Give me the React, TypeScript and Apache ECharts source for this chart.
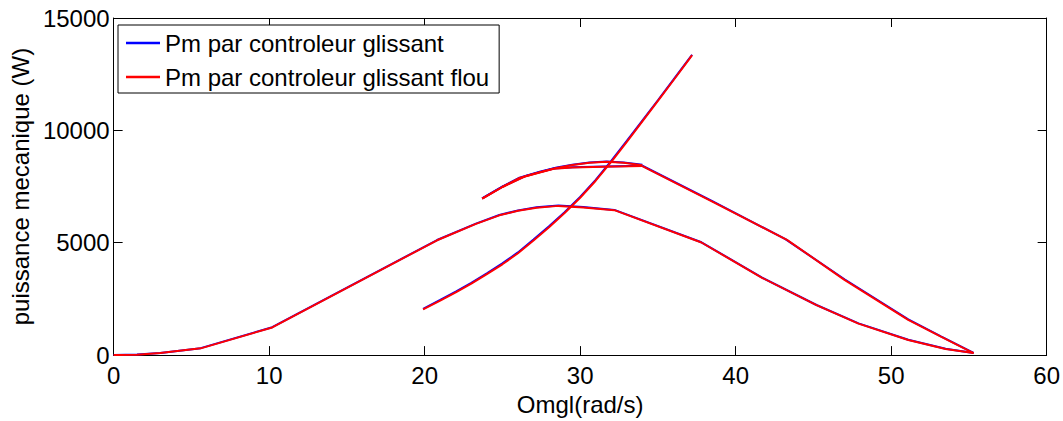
import React, { useEffect, useRef } from "react";
import * as echarts from "echarts";

const NAME_SMC = "Pm par controleur glissant";
const NAME_FUZZY = "Pm par controleur glissant flou";

const xTicks = { min: 0, max: 60, interval: 10 };
const yTicks = { min: 0, max: 15000, interval: 5000 };

// Red (fuzzy sliding) trajectory pieces
const redHumpX = [0, 1.5, 3, 5.6, 10.2, 20.8, 23.3, 24.8, 26.0, 27.2, 28.6, 30.2, 32.2, 37.8, 41.7, 45.2, 47.9, 51.1, 53.5, 55.3];
const redHumpY = [0, 20, 90, 300, 1230, 5110, 5840, 6220, 6420, 6560, 6640, 6570, 6450, 5010, 3440, 2220, 1400, 670, 275, 90];
const redUpX = [55.3, 53.2, 51.1, 47.0, 43.3, 38.5, 34.0];
const redUpY = [90, 820, 1570, 3350, 5130, 6830, 8410];
const redFlatX = [34.0, 31.5, 29.5, 28.3, 26.5, 25.0, 23.7];
const redFlatY = [8410, 8385, 8350, 8290, 7960, 7480, 6960];
const redArcX = [23.7, 25.0, 26.1, 27.4, 28.5, 29.5, 30.6, 31.7, 32.8, 34.0];
const redArcY = [6960, 7480, 7880, 8140, 8330, 8460, 8560, 8600, 8560, 8450];
const redSteepX = [19.9, 21, 22, 23, 24, 25, 26, 27, 28, 29, 30, 31, 32, 33, 34, 35, 36, 37, 37.2];
const redSteepY = [2030, 2420, 2790, 3180, 3600, 4040, 4530, 5100, 5690, 6320, 7000, 7760, 8600, 9490, 10400, 11310, 12230, 13160, 13350];

// Blue (sliding) trajectory pieces
const blueHumpX = [0, 1.5, 3, 5.6, 10.2, 20.8, 23.3, 24.8, 26.0, 27.2, 28.6, 30.2, 32.2, 37.8, 41.7, 45.2, 47.9, 51.1, 53.5, 55.3];
const blueHumpY = [0, 25, 95, 310, 1240, 5120, 5850, 6235, 6435, 6575, 6655, 6585, 6460, 5020, 3450, 2230, 1410, 680, 285, 95];
const blueUpX = [55.3, 53.2, 51.1, 47.0, 43.2, 38.5, 34.0];
const blueUpY = [95, 835, 1590, 3375, 5160, 6850, 8425];
const blueFlatX = [34.0, 31.5, 29.5, 28.3, 26.5, 25.0, 23.7];
const blueFlatY = [8420, 8395, 8360, 8300, 7975, 7495, 6975];
const blueArcX = [23.7, 25.0, 26.1, 27.4, 28.5, 29.5, 30.6, 31.7, 32.8, 34.0];
const blueArcY = [6975, 7495, 7895, 8155, 8345, 8475, 8575, 8615, 8575, 8465];
const blueSteepX = [19.9, 21, 22, 23, 24, 25, 26, 27, 28, 29, 30, 31, 32, 33, 34, 35, 36, 37, 37.2];
const blueSteepY = [2060, 2455, 2825, 3215, 3635, 4080, 4570, 5140, 5730, 6360, 7040, 7800, 8640, 9530, 10435, 11340, 12255, 13180, 13365];

const FONT = "'Liberation Sans', Arial, Helvetica, sans-serif";

function pairs(xs: number[], ys: number[]) {
  return xs.map((x, i) => [x, ys[i]]);
}

function seg(name: string, color: string, xs: number[], ys: number[]) {
  return {
    type: "line",
    name,
    data: pairs(xs, ys),
    symbol: "none",
    showSymbol: false,
    smooth: false,
    lineStyle: { color, width: 2 },
    itemStyle: { color },
    color,
    emphasis: { disabled: true },
    z: color === "#ff0000" ? 3 : 2,
  };
}

export default function App() {
  const ref = useRef<HTMLDivElement>(null);
  useEffect(() => {
    if (!ref.current) return;
    const chart = echarts.init(ref.current, undefined, { renderer: "svg" });
    const blue = "#0000ff";
    const red = "#ff0000";
    const axisCommon = {
      axisLine: { show: true, onZero: false, lineStyle: { color: "#000", width: 1 } },
      axisTick: { show: true, inside: true, length: 9, lineStyle: { color: "#000" } },
      splitLine: { show: false },
    };
    chart.setOption({
      animation: false,
      backgroundColor: "#fff",
      grid: { left: 112, top: 18, width: 937, height: 344, containLabel: false },
      legend: {
        orient: "vertical",
        left: 118,
        top: 25,
        padding: [6, 10, 4, 8],
        itemGap: 10,
        itemWidth: 34,
        itemHeight: 12,
        borderColor: "#000",
        borderWidth: 1,
        backgroundColor: "#fff",
        borderRadius: 0,
        textStyle: { fontSize: 24, fontFamily: FONT, color: "#000", lineHeight: 24 },
        data: [
          { name: NAME_SMC, icon: "path://M0,0 L1,0 L1,0.08 L0,0.08 Z" },
          { name: NAME_FUZZY, icon: "path://M0,0 L1,0 L1,0.08 L0,0.08 Z" },
        ],
        selectedMode: false,
      },
      xAxis: [
        {
          type: "value",
          ...xTicks,
          position: "bottom",
          name: "Omgl(rad/s)",
          nameLocation: "middle",
          nameGap: 30,
          nameTextStyle: { fontSize: 24, fontFamily: FONT, color: "#000" },
          axisLabel: { fontSize: 24, fontFamily: FONT, color: "#000", margin: 8, formatter: (v: number) => String(v) },
          ...axisCommon,
        },
        {
          type: "value",
          ...xTicks,
          position: "top",
          axisLabel: { show: false },
          ...axisCommon,
        },
      ],
      yAxis: [
        {
          type: "value",
          ...yTicks,
          position: "left",
          name: "puissance mecanique (W)",
          nameLocation: "middle",
          nameGap: 76,
          nameRotate: 90,
          nameTextStyle: { fontSize: 24, fontFamily: FONT, color: "#000" },
          axisLabel: { fontSize: 24, fontFamily: FONT, color: "#000", margin: 4, formatter: (v: number) => String(v) },
          ...axisCommon,
        },
        {
          type: "value",
          ...yTicks,
          position: "right",
          axisLabel: { show: false },
          ...axisCommon,
        },
      ],
      series: [
        seg(NAME_SMC, blue, blueHumpX, blueHumpY),
        seg(NAME_SMC, blue, blueUpX, blueUpY),
        seg(NAME_SMC, blue, blueFlatX, blueFlatY),
        seg(NAME_SMC, blue, blueArcX, blueArcY),
        seg(NAME_SMC, blue, blueSteepX, blueSteepY),
        seg(NAME_FUZZY, red, redHumpX, redHumpY),
        seg(NAME_FUZZY, red, redUpX, redUpY),
        seg(NAME_FUZZY, red, redFlatX, redFlatY),
        seg(NAME_FUZZY, red, redArcX, redArcY),
        seg(NAME_FUZZY, red, redSteepX, redSteepY),
      ],
    });
    return () => chart.dispose();
  }, []);
  return (
    <div
      ref={ref}
      style={{ position: "absolute", left: 0, top: 0, width: 1063, height: 421 }}
    />
  );
}
